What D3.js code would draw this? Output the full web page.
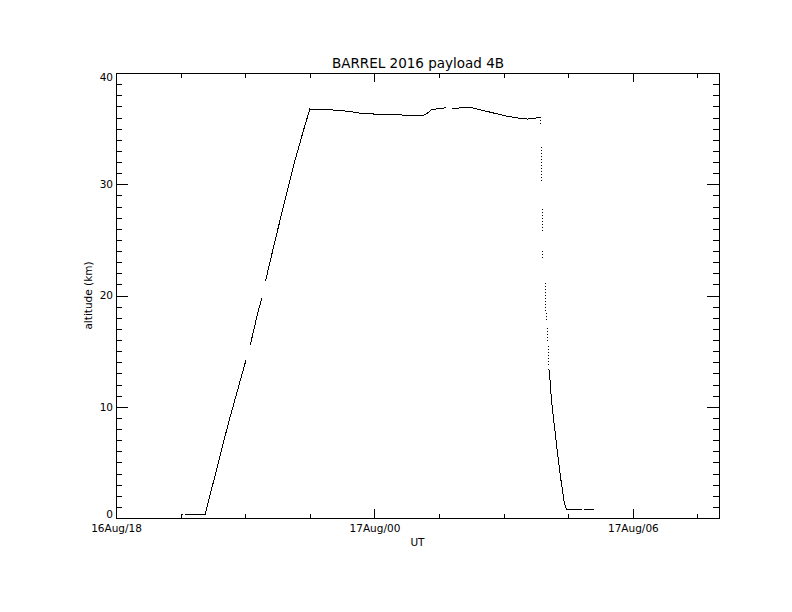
<!DOCTYPE html>
<html lang="en">
<head>
    <meta charset="UTF-8">
    <title>BARREL 2016 payload 4B</title>
    <style>
        body, html {
            margin: 0;
            padding: 0;
            background: #fff;
            overflow: hidden;
        }
        text {
            font-family: "DejaVu Sans", sans-serif;
            fill: #000;
        }
    </style>
</head>
<body>
    <script src="https://d3js.org/d3.v7.min.js"></script>
    <script>
        // Flight track: [hours UT counted from 16 Aug 00:00, altitude km], null = data gap
        var flightTrack = [
            [19.53, 0.33], [19.56, 0.33], null,
            [19.60, 0.33], [20.07, 0.33], [20.61, 8.53], [21.02, 14.23], null,
            [21.12, 15.59], [21.31, 18.74], [21.39, 19.79], null,
            [21.47, 21.29], [21.70, 25.05], [21.89, 28.05], [22.12, 31.65],
            [22.36, 34.95], [22.50, 36.76], [22.55, 36.69], [23.13, 36.67],
            [23.40, 36.55], [23.71, 36.37], [24.14, 36.28], [24.53, 36.24],
            [24.80, 36.20], [25.07, 36.15], [25.15, 36.22], [25.25, 36.45],
            [25.34, 36.76], [25.40, 36.70], [25.46, 36.82], [25.52, 36.78],
            [25.61, 36.85], [25.65, 36.91], null,
            [25.81, 36.82], [26.23, 36.91], [26.39, 36.76], [26.77, 36.40],
            [27.09, 36.10], [27.35, 35.95], [27.55, 35.86], [27.70, 35.92],
            [27.84, 36.01]
        ];

        // Sparse samples at the start of the descent (drawn dotted)
        var descentSparse = [
            [27.860, 36.01], [27.866, 35.23], null,
            [27.880, 33.31], [27.880, 30.15], null,
            [27.900, 27.75], [27.905, 25.65], null,
            [27.910, 23.99], [27.910, 23.40], null,
            [27.960, 21.14], [27.980, 18.80], [28.000, 17.84], null,
            [28.010, 17.09], [28.020, 15.88], null,
            [28.030, 15.43], [28.040, 13.78]
        ];

        // Dense samples, lower descent and landing
        var descentDense = [
            [28.05, 13.40], [28.07, 12.73], [28.11, 10.63], [28.17, 8.56],
            [28.25, 5.86], [28.33, 3.42], [28.41, 1.30], [28.46, 0.78],
            [28.81, 0.78], null,
            [28.86, 0.78], [29.10, 0.78]
        ];

        var majorHours = [18, 24, 30];
        var minorHours = [19.5, 21, 22.5, 25.5, 27, 28.5, 31.5];
        var altTicks = [0, 10, 20, 30, 40];
        var altMinor = d3.range(0, 41, 1).filter(function(v) { return v % 10; });

        var width = 792, height = 612;
        var plotLeft = 116, plotRight = 719, plotTop = 73, plotBottom = 518;

        function hourToDate(h) {
            return new Date(Date.UTC(2016, 7, 16) + h * 3600000);
        }

        var svg = d3.select("body")
            .append("svg")
            .attr("width", width)
            .attr("height", height);

        var x = d3.scaleUtc()
            .domain([hourToDate(18), hourToDate(32)])
            .range([plotLeft, plotRight]);

        var y = d3.scaleLinear()
            .domain([0, 40])
            .range([plotBottom, plotTop]);

        // axes: IDL-style ticks pointing inward on all four sides
        var xMajorLen = 9, xMinorLen = 4.5, yMajorLen = 12, yMinorLen = 6;

        svg.append("g")
            .attr("transform", "translate(0," + plotBottom + ")")
            .call(d3.axisBottom(x)
                .tickValues(majorHours.map(hourToDate))
                .tickSize(-xMajorLen)
                .tickPadding(7)
                .tickFormat(d3.utcFormat("%d%b/%H")));

        svg.append("g")
            .attr("transform", "translate(0," + plotBottom + ")")
            .call(d3.axisBottom(x)
                .tickValues(minorHours.map(hourToDate))
                .tickSize(-xMinorLen)
                .tickFormat(""));

        svg.append("g")
            .attr("transform", "translate(0," + plotTop + ")")
            .call(d3.axisTop(x)
                .tickValues(majorHours.map(hourToDate))
                .tickSize(-xMajorLen)
                .tickFormat(""));

        svg.append("g")
            .attr("transform", "translate(0," + plotTop + ")")
            .call(d3.axisTop(x)
                .tickValues(minorHours.map(hourToDate))
                .tickSize(-xMinorLen)
                .tickFormat(""));

        var yLeft = svg.append("g")
            .attr("transform", "translate(" + plotLeft + ",0)")
            .call(d3.axisLeft(y)
                .tickValues(altTicks)
                .tickSize(-yMajorLen)
                .tickPadding(3)
                .tickFormat(d3.format("d")));

        svg.append("g")
            .attr("transform", "translate(" + plotLeft + ",0)")
            .call(d3.axisLeft(y)
                .tickValues(altMinor)
                .tickSize(-yMinorLen)
                .tickFormat(""));

        svg.append("g")
            .attr("transform", "translate(" + plotRight + ",0)")
            .call(d3.axisRight(y)
                .tickValues(altTicks)
                .tickSize(-yMajorLen)
                .tickFormat(""));

        svg.append("g")
            .attr("transform", "translate(" + plotRight + ",0)")
            .call(d3.axisRight(y)
                .tickValues(altMinor)
                .tickSize(-yMinorLen)
                .tickFormat(""));

        // IDL keeps the end labels inside the box
        yLeft.selectAll(".tick text")
            .attr("y", function(d) {
                if (d === 40) return 4;
                if (d === 0) return -4;
                return 0;
            });

        svg.selectAll(".domain").remove();
        svg.selectAll(".tick text")
            .style("font-family", "DejaVu Sans, sans-serif")
            .style("font-size", "10.5px")
            .attr("fill", "#000");
        svg.selectAll(".tick line")
            .attr("stroke", "#000")
            .attr("shape-rendering", "crispEdges");

        // plot frame
        svg.append("rect")
            .attr("x", plotLeft + 0.5)
            .attr("y", plotTop + 0.5)
            .attr("width", plotRight - plotLeft)
            .attr("height", plotBottom - plotTop)
            .attr("fill", "none")
            .attr("stroke", "#000")
            .attr("shape-rendering", "crispEdges");

        // flight trace
        var line = d3.line()
            .defined(function(d) { return d !== null; })
            .x(function(d) { return x(hourToDate(d[0])); })
            .y(function(d) { return y(d[1]); });

        svg.append("path")
            .datum(flightTrack)
            .attr("d", line)
            .attr("fill", "none")
            .attr("stroke", "#000")
            .attr("stroke-width", 1)
            .attr("shape-rendering", "crispEdges");

        svg.append("path")
            .datum(descentSparse)
            .attr("d", line)
            .attr("fill", "none")
            .attr("stroke", "#000")
            .attr("stroke-width", 1)
            .attr("stroke-dasharray", "1,2")
            .attr("shape-rendering", "crispEdges");

        svg.append("path")
            .datum(descentDense)
            .attr("d", line)
            .attr("fill", "none")
            .attr("stroke", "#000")
            .attr("stroke-width", 1)
            .attr("shape-rendering", "crispEdges");

        // labels
        svg.append("text")
            .attr("x", (plotLeft + plotRight) / 2 + 0.5)
            .attr("y", 68)
            .attr("text-anchor", "middle")
            .style("font-size", "13.5px")
            .text("BARREL 2016 payload 4B");

        svg.append("text")
            .attr("x", (plotLeft + plotRight) / 2)
            .attr("y", 546)
            .attr("text-anchor", "middle")
            .style("font-size", "10.5px")
            .text("UT");

        svg.append("text")
            .attr("transform", "translate(92," + ((plotTop + plotBottom) / 2) + ") rotate(-90)")
            .attr("text-anchor", "middle")
            .style("font-size", "10.5px")
            .text("altitude (km)");
    </script>
</body>
</html>
